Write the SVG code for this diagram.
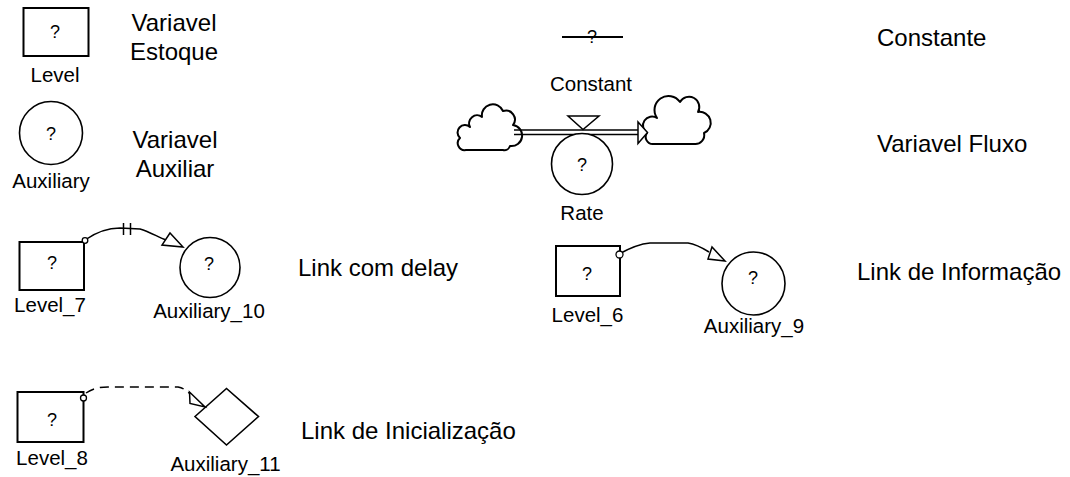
<svg xmlns="http://www.w3.org/2000/svg" width="1070" height="477" viewBox="0 0 1070 477">
  <style>
    text { font-family: "Liberation Sans", Arial, sans-serif; fill: #000; }
    .q { font-size: 18px; text-anchor: middle; }
    .lbl { font-size: 20.5px; text-anchor: middle; }
    .note { font-size: 24px; }
    .notec { font-size: 24px; text-anchor: middle; }
    .box { fill: #fff; stroke: #000; stroke-width: 2; }
    .aux { fill: #fff; stroke: #000; stroke-width: 1.6; }
    .link { fill: none; stroke: #000; stroke-width: 1.5; }
    .dash { fill: none; stroke: #000; stroke-width: 1.5; stroke-dasharray: 9 6; }
    .head { fill: #fff; stroke: #000; stroke-width: 1.5; stroke-linejoin: miter; }
    .tail { fill: #fff; stroke: #000; stroke-width: 1.3; }
    .cloud { fill: #fff; stroke: #000; stroke-width: 2; stroke-linejoin: round; }
  </style>

  <rect width="1070" height="477" fill="#fff"/>

  <!-- legend: stock -->
  <g id="level">
    <rect class="box" x="23.5" y="8" width="65" height="48"/>
    <text class="q" x="55" y="38">?</text>
    <text class="lbl" x="55" y="82">Level</text>
  </g>
  <g id="note-estoque">
    <text class="notec" x="174" y="31">Variavel</text>
    <text class="notec" x="174" y="60">Estoque</text>
  </g>

  <!-- legend: auxiliary -->
  <g id="auxiliary">
    <circle class="aux" cx="51" cy="133" r="31.5"/>
    <text class="q" x="51" y="140">?</text>
    <text class="lbl" x="51" y="188">Auxiliary</text>
  </g>
  <g id="note-auxiliar">
    <text class="notec" x="175" y="148">Variavel</text>
    <text class="notec" x="175" y="177">Auxiliar</text>
  </g>

  <!-- legend: constant -->
  <g id="constant">
    <line x1="562" y1="37" x2="623" y2="37" stroke="#000" stroke-width="2"/>
    <text class="q" x="592" y="43">?</text>
    <text class="lbl" x="591" y="91">Constant</text>
  </g>
  <text class="note" x="877" y="46">Constante</text>

  <!-- legend: flow with source and sink clouds -->
  <g id="cloud-source">
    <path class="cloud" d="M466,150 A7,7 0 0 1 460,138 A7,7 0 0 1 470,127 A8,8 0 0 1 482,117 A11,11 0 0 1 503,111 A9,9 0 0 1 513,125 A10,10 0 0 1 510,146 A6,6 0 0 1 503,150 Z"/>
  </g>
  <g id="cloud-sink">
    <path class="cloud" d="M653,144 A7,7 0 0 1 647,133 A8,8 0 0 1 657,118 A12,12 0 0 1 680,102 A10,10 0 0 1 698,112 A11,11 0 0 1 704,133 A9,9 0 0 1 694,144 Z"/>
  </g>
  <g id="rate">
    <line x1="514" y1="130" x2="639" y2="130" stroke="#000" stroke-width="1.6"/>
    <line x1="514" y1="134.5" x2="639" y2="134.5" stroke="#000" stroke-width="1.6"/>
    <polygon class="head" points="638,122 638,143.5 647.5,132.5"/>
    <polygon class="head" points="568,116 599,116 583,129.5"/>
    <circle class="aux" cx="582" cy="164" r="30.5"/>
    <text class="q" x="582" y="171">?</text>
    <text class="lbl" x="582" y="220">Rate</text>
  </g>
  <text class="note" x="877" y="152">Variavel Fluxo</text>

  <!-- example: delayed link -->
  <g id="level_7">
    <rect class="box" x="19.5" y="242" width="64.5" height="48"/>
    <text class="q" x="52" y="269">?</text>
    <text class="lbl" x="50" y="312">Level_7</text>
  </g>
  <g id="auxiliary_10">
    <circle class="aux" cx="210" cy="267.5" r="30"/>
    <text class="q" x="209" y="270">?</text>
    <text class="lbl" x="209" y="318">Auxiliary_10</text>
  </g>
  <text class="note" x="298" y="276">Link com delay</text>

  <!-- example: information link -->
  <g id="level_6">
    <rect class="box" x="556" y="246" width="64" height="50"/>
    <text class="q" x="587" y="280">?</text>
    <text class="lbl" x="587.5" y="322">Level_6</text>
  </g>
  <g id="auxiliary_9">
    <circle class="aux" cx="753.5" cy="283.5" r="31.5"/>
    <text class="q" x="753" y="284">?</text>
    <text class="lbl" x="754" y="333">Auxiliary_9</text>
  </g>
  <text class="note" x="857" y="280">Link de Informação</text>

  <!-- example: initialisation link -->
  <g id="level_8">
    <rect class="box" x="17.5" y="392" width="66" height="50"/>
    <text class="q" x="52" y="426">?</text>
    <text class="lbl" x="52" y="465">Level_8</text>
  </g>
  <g id="auxiliary_11">
    <polygon class="aux" points="195,416.5 226.5,388.5 258.5,416.5 226.5,445"/>
    <text class="lbl" x="225.5" y="471">Auxiliary_11</text>
  </g>
  <text class="note" x="301" y="439">Link de Inicialização</text>

  <!-- connectors -->
  <g id="connectors">
    <!-- Level_7 -> Auxiliary_10 (delayed) -->
    <path class="link" d="M85,240 C95,233 108,228 120,228 L140,229 C150,232 158,237 166,240"/>
    <line class="link" x1="123.5" y1="223" x2="123.5" y2="235"/>
    <line class="link" x1="130.5" y1="223" x2="130.5" y2="235"/>
    <polygon class="head" points="170,233 162,245 183,247"/>
    <circle class="tail" cx="85" cy="240.5" r="2.8"/>

    <!-- Level_6 -> Auxiliary_9 (information) -->
    <path class="link" d="M619,254 C628,249 638,244 650,243 L688,243 C695,244 701,247 709,252"/>
    <polygon class="head" points="712,247 708,259 725,261"/>
    <circle class="tail" cx="619.5" cy="254.5" r="3.5"/>

    <!-- Level_8 -> Auxiliary_11 (initialisation) -->
    <path class="dash" d="M86,393 C92,389 98,387 108,387 L178,387 C183,388 186,390 190,394"/>
    <polygon class="head" points="189.5,392 190,403.5 205,407"/>
    <circle class="tail" cx="83.5" cy="398" r="3"/>
  </g>
</svg>
